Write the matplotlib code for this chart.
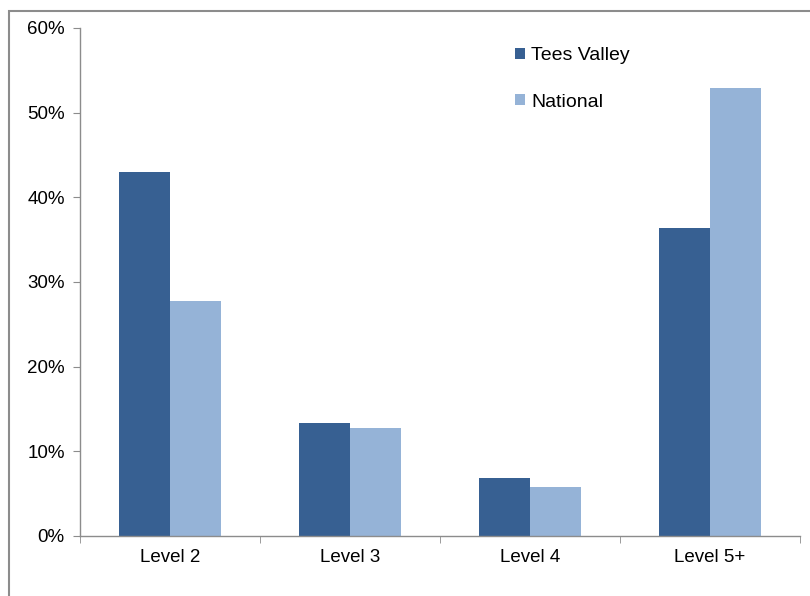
import matplotlib
matplotlib.use("Agg")
import matplotlib.pyplot as plt
from matplotlib.patches import Rectangle
import numpy as np

categories = ["Level 2", "Level 3", "Level 4", "Level 5+"]
tees_valley = [43.0, 13.3, 6.9, 36.4]
national = [27.8, 12.8, 5.8, 52.9]
series_names = ["Tees Valley", "National"]
yticks = [0, 10, 20, 30, 40, 50, 60]

plt.rcParams['font.family'] = ['Liberation Sans', 'DejaVu Sans']

W, H = 810, 596
fig = plt.figure(figsize=(W / 100, H / 100), dpi=100)

# outer chart frame (partly off canvas)
fig.patches.append(Rectangle((9 / W, -0.1), 1.2, (H - 11) / H + 0.1, transform=fig.transFigure,
                             fill=False, edgecolor="#8c8c8c", linewidth=1.5))

ax = fig.add_axes([80 / W, (H - 536) / H, 720 / W, 508 / H])
x = np.arange(len(categories))
bw = 0.285
ax.bar(x - bw / 2, tees_valley, bw, color="#376092", label=series_names[0])
ax.bar(x + bw / 2, national, bw, color="#95B3D7", label=series_names[1])

ax.set_xlim(-0.5, len(categories) - 0.5)
ax.set_ylim(0, 60)
ax.set_yticks(yticks)
ax.set_yticklabels([f"{v}%" for v in yticks])
ax.set_xticks(x)
ax.set_xticklabels(categories)
ax.set_xticks(np.arange(len(categories) + 1) - 0.5, minor=True)

for s in ["top", "right"]:
    ax.spines[s].set_visible(False)
for s in ["left", "bottom"]:
    ax.spines[s].set_color("#8c8c8c")
    ax.spines[s].set_linewidth(1)

ax.tick_params(axis="y", which="major", length=5, color="#8c8c8c", labelsize=13.5, pad=6)
ax.tick_params(axis="x", which="major", length=0, labelsize=13.5, pad=9)
ax.tick_params(axis="x", which="minor", length=5, color="#8c8c8c")

ax.legend(loc="upper left", bbox_to_anchor=(416 / 720, 1.0), frameon=False, fontsize=14,
          handlelength=0.5, handleheight=0.5, handletextpad=0.3, labelspacing=1.5,
          borderaxespad=0.6)

fig.savefig("out.png", dpi=100)
